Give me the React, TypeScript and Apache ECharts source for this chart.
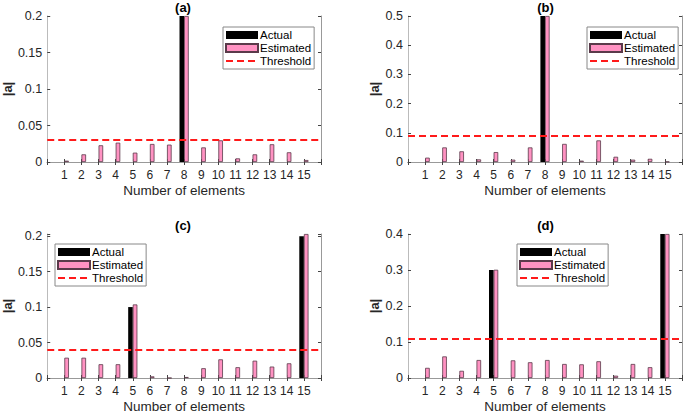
import React, { useEffect, useRef } from "react";
import * as echarts from "echarts";

const categories = ["1","2","3","4","5","6","7","8","9","10","11","12","13","14","15"];

const actualA = [0,0,0,0,0,0,0,0.2,0,0,0,0,0,0,0];
const estimatedA = [0.0018,0.0105,0.0229,0.0265,0.0128,0.0247,0.0238,0.2,0.020,0.0297,0.005,0.0105,0.0243,0.0133,0.0027];
const thresholdA = 0.0334;

const actualB = [0,0,0,0,0,0,0,0.5,0,0,0,0,0,0,0];
const estimatedB = [0.0149,0.050,0.0366,0.009,0.034,0.008,0.050,0.5,0.062,0.0046,0.074,0.018,0.008,0.011,0.001];
const thresholdB = 0.088;

const actualC = [0,0,0,0,0.1,0,0,0,0,0,0,0,0,0,0.2];
const estimatedC = [0.0286,0.0286,0.0194,0.0194,0.1037,0.0023,0,0.0014,0.0138,0.0263,0.0152,0.0244,0.0161,0.0207,0.203];
const thresholdC = 0.0401;

const actualD = [0,0,0,0,0.3,0,0,0,0,0,0,0,0,0,0.4];
const estimatedD = [0.0282,0.060,0.020,0.050,0.3007,0.049,0.0437,0.050,0.039,0.038,0.0465,0.0064,0.039,0.030,0.4];
const thresholdD = 0.1057;

const panelTitles = ["(a)", "(b)", "(c)", "(d)"];
const yMax = [0.2, 0.5, 0.203, 0.4];
const yInterval = [0.05, 0.1, 0.05, 0.1];

const FONT = "Liberation Sans, Arial, Helvetica, sans-serif";
const PINK = "#FF92C2";
const PINK_BORDER = "#5a3a4a";
const RED = "#FF1A1A";

// x-limits run from 0 to 16, so pad the category list with empty slots
const xCats = ["", ...categories, ""];
const pad = (arr: number[]) => [null, ...arr, null];

export default function App() {
  const ref = useRef<HTMLDivElement>(null);
  useEffect(() => {
    document.body.style.margin = "0";
    const chart = echarts.init(ref.current!, undefined, { renderer: "svg" });
    const grids = [
      { left: 45, top: 16, width: 276, height: 146 },
      { left: 408, top: 16, width: 275, height: 146 },
      { left: 45, top: 234, width: 276, height: 146 },
      { left: 408, top: 234, width: 275, height: 146 },
    ];
    const yNameGap = [32, 27, 32, 27];
    const legendPos = [
      { left: 223, top: 27 },
      { left: 587, top: 27 },
      { left: 55, top: 244 },
      { left: 517, top: 244 },
    ];
    const actuals = [actualA, actualB, actualC, actualD];
    const ests = [estimatedA, estimatedB, estimatedC, estimatedD];
    const thr = [thresholdA, thresholdB, thresholdC, thresholdD];

    const xAxis: any[] = [];
    const yAxis: any[] = [];
    const series: any[] = [];
    const title: any[] = [];
    const legend: any[] = [];

    grids.forEach((g, i) => {
      xAxis.push({
        type: "category",
        data: xCats,
        boundaryGap: false,
        gridIndex: i,
        position: "bottom",
        name: "Number of elements",
        nameLocation: "middle",
        nameGap: 21,
        nameTextStyle: { fontFamily: FONT, fontSize: 13.5, color: "#262626" },
        axisLine: { lineStyle: { color: "#333", width: 1 } },
        axisTick: { show: true, inside: true, length: 3, interval: 0, lineStyle: { color: "#444" } },
        axisLabel: { fontFamily: FONT, fontSize: 12, color: "#262626", margin: 7, interval: 0 },
        splitLine: { show: false },
      });
      xAxis.push({
        type: "category",
        data: xCats,
        boundaryGap: false,
        gridIndex: i,
        position: "top",
        axisLine: { lineStyle: { color: "#999", width: 1 } },
        axisTick: { show: true, inside: true, length: 3, interval: 0, lineStyle: { color: "#444" } },
        axisLabel: { show: false },
        splitLine: { show: false },
      });
      const fmt = (v: number) => {
        const r = v / yInterval[i];
        if (Math.abs(r - Math.round(r)) > 1e-6) return "";
        return String(Math.round(v * 1000) / 1000);
      };
      yAxis.push({
        type: "value",
        gridIndex: i,
        min: 0,
        max: yMax[i],
        interval: yInterval[i],
        position: "left",
        name: "|a|",
        nameLocation: "middle",
        nameRotate: 90,
        nameGap: yNameGap[i],
        nameTextStyle: { fontFamily: FONT, fontSize: 13, fontWeight: "bold", color: "#262626" },
        axisLine: { show: true, lineStyle: { color: "#bbb", width: 1 } },
        axisTick: { show: true, inside: true, length: 3, lineStyle: { color: "#444" } },
        axisLabel: { fontFamily: FONT, fontSize: 12.5, color: "#262626", margin: 5, formatter: fmt },
        splitLine: { show: false },
      });
      yAxis.push({
        type: "value",
        gridIndex: i,
        min: 0,
        max: yMax[i],
        interval: yInterval[i],
        position: "right",
        axisLine: { show: true, lineStyle: { color: "#999", width: 1 } },
        axisTick: { show: true, inside: true, length: 3, lineStyle: { color: "#444" } },
        axisLabel: { show: false },
        splitLine: { show: false },
      });
      series.push({
        name: "Actual",
        type: "bar",
        xAxisIndex: i * 2,
        yAxisIndex: i * 2,
        data: pad(actuals[i]),
        barGap: "0%",
        barWidth: 4.6,
        itemStyle: { color: "#000" },
      });
      series.push({
        name: "Estimated",
        type: "bar",
        xAxisIndex: i * 2,
        yAxisIndex: i * 2,
        data: pad(ests[i]),
        barGap: "0%",
        barWidth: 4.6,
        itemStyle: { color: PINK, borderColor: PINK_BORDER, borderWidth: 0.8 },
      });
      series.push({
        name: "Threshold",
        type: "line",
        xAxisIndex: i * 2,
        yAxisIndex: i * 2,
        data: [],
        symbol: "none",
        lineStyle: { color: RED, width: 2, type: [7, 4] },
        itemStyle: { color: RED },
        markLine: {
          silent: true,
          symbol: "none",
          label: { show: false },
          lineStyle: { color: RED, width: 2, type: [7, 4] },
          data: [{ yAxis: thr[i] }],
        },
      });
      title.push({
        text: panelTitles[i],
        left: g.left + g.width / 2,
        top: g.top - 15,
        padding: 0,
        textAlign: "center",
        textStyle: { fontFamily: FONT, fontSize: 13, fontWeight: "bold", color: "#000" },
      });
      legend.push({
        left: legendPos[i].left,
        top: legendPos[i].top,
        orient: "vertical",
        data: [
          { name: "Actual", icon: "rect" },
          { name: "Estimated", icon: "rect" },
          { name: "Threshold", itemStyle: { opacity: 0 }, lineStyle: { color: RED, width: 2, type: [7, 4], opacity: 1 } },
        ],
        itemWidth: 32,
        itemHeight: 8,
        itemGap: 1,
        padding: [2, 3, 2, 2],
        borderColor: "#888",
        borderWidth: 1,
        borderRadius: 0,
        backgroundColor: "#fff",
        selectedMode: false,
        textStyle: { fontFamily: FONT, fontSize: 11.5, lineHeight: 12, color: "#000", padding: [0, 0, 0, -3] },
      });
    });

    chart.setOption({
      animation: false,
      backgroundColor: "#fff",
      title,
      legend,
      grid: grids.map((g) => ({ ...g, containLabel: false })),
      xAxis,
      yAxis,
      series,
    });
    return () => chart.dispose();
  }, []);
  return <div ref={ref} style={{ width: 685, height: 414 }} />;
}
